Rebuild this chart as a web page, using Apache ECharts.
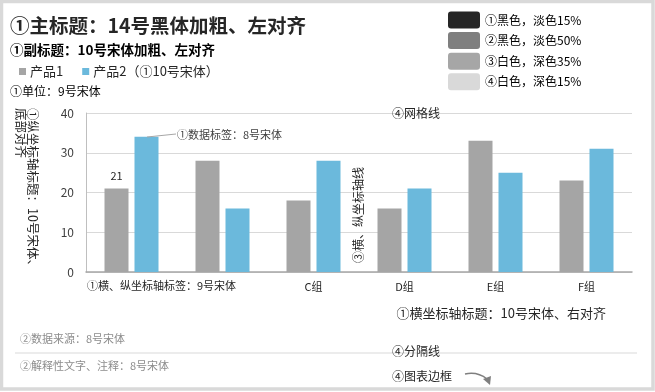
<!DOCTYPE html>
<html>
<head>
<meta charset="utf-8">
<script src="https://cdn.jsdelivr.net/npm/echarts@6/dist/echarts.min.js"></script>
<style>
html,body{margin:0;padding:0;background:#fff;}
#main{width:655px;height:392px;}
</style>
</head>
<body>
<div id="main"></div>
<script>
// ---- data ----
const categories = ['A组', 'B组', 'C组', 'D组', 'E组', 'F组'];
const seriesNames = ['产品1', '产品2'];
const product1 = [21, 28, 18, 16, 33, 23];
const product2 = [34, 16, 28, 21, 25, 31];
const yTicks = [0, 10, 20, 30, 40];
const paletteNames = ['①黑色，淡色15%', '②黑色，淡色50%', '③白色，深色35%', '④白色，深色15%'];
const paletteColors = ['#262626', '#7f7f7f', '#a6a6a6', '#d9d9d9'];

const FONT = '"Noto Sans CJK SC", "Noto Sans", sans-serif';
const chart = echarts.init(document.getElementById('main'), null, {renderer: 'canvas'});

function txt(x, y, text, size, fill, styleExtra) {
  return {
    type: 'text', x: x, y: y, z: 100,
    style: Object.assign({
      text: text, fontSize: size, fontFamily: FONT, fill: fill,
      align: 'left', verticalAlign: 'middle'
    }, styleExtra || {})
  };
}

const graphics = [];
// outer border
graphics.push({type: 'rect', z: 200, shape: {x: 1.5, y: 1.5, width: 651.5, height: 387.5},
  style: {fill: 'none', stroke: '#d9d9d9', lineWidth: 3.5}});
// titles
graphics.push(txt(10, 26, '①主标题：14号黑体加粗、左对齐', 19.5, '#262626', {fontWeight: 'bold'}));
graphics.push(txt(10, 50, '①副标题：10号宋体加粗、左对齐', 13.5, '#000', {fontWeight: 'bold'}));
graphics.push(txt(10, 91, '①单位：9号宋体', 12, '#000'));
// palette swatches
paletteColors.forEach(function (c, i) {
  const yc = 20 + i * 20.6;
  graphics.push({type: 'rect', z: 100, shape: {x: 448, y: yc - 8.5, width: 32, height: 17, r: 3}, style: {fill: c}});
  graphics.push(txt(485, yc, paletteNames[i], 12, '#000'));
});
// y-axis title (rotated clockwise)
graphics.push({type: 'text', z: 100, x: 39, y: 108, rotation: -Math.PI / 2,
  style: {text: '①纵坐标轴标题：10号宋体、\n底部对齐', fontSize: 12.5, fontFamily: FONT, fill: '#262626',
    align: 'left', verticalAlign: 'top', lineHeight: 12}});
// axis line annotation (rotated ccw)
graphics.push({type: 'text', z: 100, x: 358, y: 215, rotation: Math.PI / 2,
  style: {text: '③横、纵坐标轴线', fontSize: 12, fontFamily: FONT, fill: '#262626',
    align: 'center', verticalAlign: 'middle'}});
// gridline annotation
graphics.push(txt(392, 113.5, '④网格线', 12, '#262626'));
// data label annotation
graphics.push({type: 'polyline', z: 100, shape: {points: [[147, 137], [176, 134]]},
  style: {stroke: '#a6a6a6', lineWidth: 1, fill: 'none'}});
graphics.push(txt(177, 135, '①数据标签：8号宋体', 11, '#404040'));
// x axis label annotation
graphics.push(txt(87, 286, '①横、纵坐标轴标签：9号宋体', 11, '#262626'));
graphics.push(txt(606, 313, '①横坐标轴标题：10号宋体、右对齐', 13, '#262626', {align: 'right'}));
// footer
graphics.push(txt(20, 339, '②数据来源：8号宋体', 11, '#8c8c8c'));
graphics.push({type: 'line', z: 90, shape: {x1: 15, y1: 353, x2: 637, y2: 353}, style: {stroke: '#d9d9d9', lineWidth: 1}});
graphics.push(txt(392, 351, '④分隔线', 12, '#262626'));
graphics.push(txt(20, 366, '②解释性文字、注释：8号宋体', 11, '#8c8c8c'));
graphics.push(txt(392, 376, '④图表边框', 12, '#262626'));
graphics.push({type: 'bezierCurve', z: 100, shape: {x1: 465, y1: 374, cpx1: 474, cpy1: 372, cpx2: 482, cpy2: 375, x2: 487, y2: 379},
  style: {stroke: '#7f7f7f', lineWidth: 1.5, fill: 'none'}});
graphics.push({type: 'polygon', z: 100, shape: {points: [[483, 379], [491, 376], [490, 385]]}, style: {fill: '#7f7f7f'}});

const option = {
  animation: false,
  textStyle: {fontFamily: FONT},
  legend: {
    left: 14, top: 60, itemWidth: 7, itemHeight: 7, itemGap: 19, icon: 'rect',
    textStyle: {fontSize: 13, color: '#262626', fontFamily: FONT, padding: [0, 0, 0, -1]},
    formatter: function (n) { return n === '产品2' ? '产品2（①10号宋体）' : n; },
    data: seriesNames
  },
  grid: {left: 86, right: 23, top: 113, bottom: 120, containLabel: false, outerBoundsMode: 'none'},
  xAxis: {
    type: 'category', data: categories,
    axisLine: {show: true, lineStyle: {color: '#a6a6a6', width: 1.5}},
    axisTick: {show: false},
    axisLabel: {
      fontSize: 11, color: '#262626', margin: 9, fontFamily: FONT,
      formatter: function (v, i) { return i < 2 ? '' : v; }
    }
  },
  yAxis: {
    type: 'value', min: yTicks[0], max: yTicks[yTicks.length - 1], interval: 10,
    axisLine: {show: true, lineStyle: {color: '#bfbfbf', width: 1}},
    axisTick: {show: false},
    splitLine: {show: true, lineStyle: {color: '#d9d9d9', width: 1}},
    axisLabel: {fontSize: 12, color: '#404040', margin: 12, fontFamily: FONT}
  },
  series: [
    {
      name: seriesNames[0], type: 'bar', barWidth: 24, barGap: '25%',
      itemStyle: {color: '#a5a5a5'},
      data: product1.map(function (v, i) {
        return i === 0 ? {value: v, label: {show: true, position: 'top', distance: 7, fontSize: 11, color: '#262626'}} : v;
      })
    },
    {
      name: seriesNames[1], type: 'bar', barWidth: 24,
      itemStyle: {color: '#6bb9dc'},
      data: product2
    }
  ],
  graphic: graphics
};
chart.setOption(option);
</script>
</body>
</html>
